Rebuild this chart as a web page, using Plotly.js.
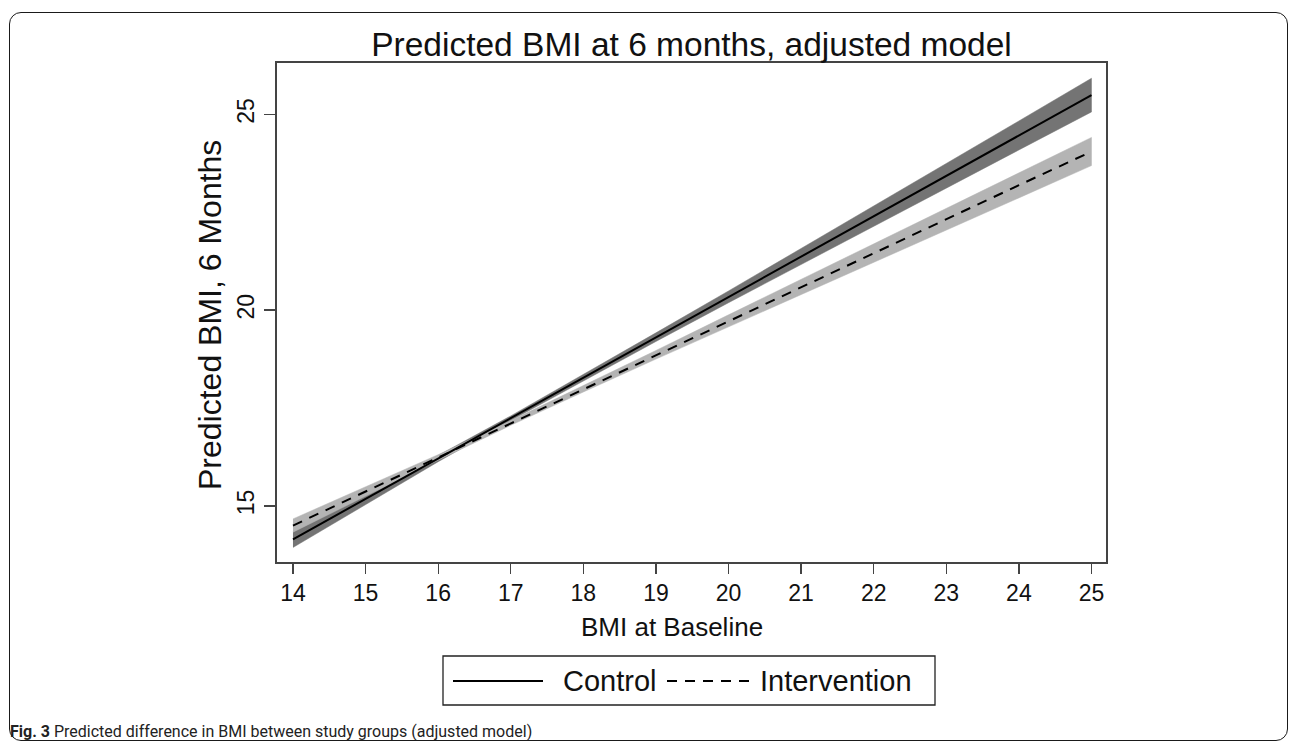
<!DOCTYPE html>
<html>
<head>
<meta charset="utf-8">
<script src="https://cdn.plot.ly/plotly-3.0.1.min.js"></script>
<style>
  html, body { margin: 0; padding: 0; background: #ffffff; }
  #wrap { position: relative; width: 1292px; height: 746px; }
  #chart { position: absolute; left: 0; top: 0; width: 1292px; height: 746px; }
  #frame { position: absolute; left: 9px; top: 12px; width: 1279px; height: 729px;
           border: 1.6px solid #1a1a1a; border-radius: 12px; pointer-events: none; box-sizing: border-box; }
</style>
</head>
<body>
<div id="wrap">
  <div id="chart"></div>
  <div id="frame"></div>
</div>
<script>
// ---- data ----
const baselineBMI = [14, 15, 16, 17, 18, 19, 20, 21, 22, 23, 24, 25];

const controlPred  = [14.15, 15.18, 16.21, 17.24, 18.27, 19.31, 20.34, 21.37, 22.40, 23.43, 24.46, 25.49];
const controlLow   = [13.94, 15.04, 16.13, 17.18, 18.19, 19.20, 20.19, 21.17, 22.15, 23.12, 24.09, 25.06];
const controlHigh  = [14.36, 15.32, 16.29, 17.30, 18.35, 19.42, 20.49, 21.57, 22.65, 23.74, 24.83, 25.92];

const interventionPred = [14.50, 15.37, 16.24, 17.12, 17.99, 18.86, 19.73, 20.60, 21.46, 22.33, 23.19, 24.05];
const interventionLow  = [14.33, 15.26, 16.17, 17.06, 17.91, 18.75, 19.58, 20.41, 21.22, 22.05, 22.87, 23.69];
const interventionHigh = [14.67, 15.48, 16.31, 17.18, 18.07, 18.97, 19.88, 20.79, 21.70, 22.61, 23.51, 24.41];

const seriesNames = ["Control", "Intervention"];
const xTicks = [14, 15, 16, 17, 18, 19, 20, 21, 22, 23, 24, 25];
const yTicks = [15, 20, 25];

const chartTitle = "Predicted BMI at 6 months, adjusted model";
const xTitle = "BMI at Baseline";
const yTitle = "Predicted BMI, 6 Months";
const captionBold = "Fig. 3";
const captionText = " Predicted difference in BMI between study groups (adjusted model)";

// ---- build traces ----
function band(x, lo, hi, color) {
  return {
    x: x.concat(x.slice().reverse()),
    y: hi.concat(lo.slice().reverse()),
    type: "scatter", mode: "lines", fill: "toself",
    fillcolor: color, line: { color: color, width: 0.5 },
    hoverinfo: "skip", showlegend: false
  };
}

const traces = [
  band(baselineBMI, controlLow, controlHigh, "#747474"),
  band(baselineBMI, interventionLow, interventionHigh, "#b4b4b4"),
  {
    x: baselineBMI, y: controlPred, name: seriesNames[0],
    type: "scatter", mode: "lines",
    line: { color: "#000000", width: 2 }, showlegend: false
  },
  {
    x: baselineBMI, y: interventionPred, name: seriesNames[1],
    type: "scatter", mode: "lines",
    line: { color: "#000000", width: 2, dash: "10px,8px" }, showlegend: false
  }
];

// plot area in pixels: left 277, right 1106, top 63, bottom 562
const W = 1292, H = 746, L = 277, R = 1106, T = 63, B = 562;
const px = v => (v - L) / (R - L);
const py = v => (B - v) / (B - T);

const FONT = "Liberation Sans, Arial, sans-serif";
const legendY = py(681);
const shapes = [
  { type: "rect", xref: "paper", yref: "paper", x0: px(443), x1: px(935), y0: py(656), y1: py(705),
    line: { color: "#222222", width: 1.3 }, fillcolor: "rgba(0,0,0,0)" },
  { type: "line", xref: "paper", yref: "paper", x0: px(453), x1: px(543), y0: legendY, y1: legendY,
    line: { color: "#000000", width: 2 } },
  { type: "line", xref: "paper", yref: "paper", x0: px(667), x1: px(750), y0: legendY, y1: legendY,
    line: { color: "#000000", width: 2, dash: "10px,8px" } }
];

const annotations = [
  { xref: "paper", yref: "paper", x: px(561), y: legendY, xanchor: "left", yanchor: "middle",
    text: seriesNames[0], showarrow: false,
    font: { family: FONT, size: 29, color: "#111111" } },
  { xref: "paper", yref: "paper", x: px(758), y: legendY, xanchor: "left", yanchor: "middle",
    text: seriesNames[1], showarrow: false,
    font: { family: FONT, size: 29, color: "#111111" } },
  { xref: "paper", yref: "paper", x: px(672), y: py(627), xanchor: "center", yanchor: "middle",
    text: xTitle, showarrow: false,
    font: { family: FONT, size: 26, color: "#111111" } },
  { xref: "paper", yref: "paper", x: px(210), y: py(315), xanchor: "center", yanchor: "middle",
    text: yTitle, showarrow: false, textangle: -90,
    font: { family: FONT, size: 32, color: "#111111" } },
  { xref: "paper", yref: "paper", x: px(8), y: py(731), xanchor: "left", yanchor: "middle",
    text: "<b>" + captionBold + "</b>" + captionText, showarrow: false,
    font: { family: "Roboto, Open Sans, sans-serif", size: 16, color: "#222222" } }
];

const axisFont = { family: FONT, size: 23, color: "#111111" };

const layout = {
  width: W, height: H,
  margin: { l: L, r: W - R, t: T, b: H - B, pad: 0 },
  paper_bgcolor: "rgba(0,0,0,0)",
  plot_bgcolor: "#ffffff",
  showlegend: false,
  title: {
    text: chartTitle, x: 0.5, xref: "paper", xanchor: "center",
    y: 1 - 44 / H, yref: "container", yanchor: "middle",
    font: { family: FONT, size: 33.5, color: "#111111" }
  },
  xaxis: {
    range: [13.78, 25.2], tickvals: xTicks, ticktext: xTicks.map(String),
    ticks: "outside", ticklen: 10, tickwidth: 1.3, tickcolor: "#444444",
    showline: true, linecolor: "#444444", linewidth: 1.6, mirror: true,
    showgrid: false, zeroline: false, tickfont: axisFont, ticklabelstandoff: 0,
    automargin: false
  },
  yaxis: {
    range: [13.57, 26.31], tickvals: yTicks, ticktext: yTicks.map(String),
    ticks: "outside", ticklen: 11, tickwidth: 1.3, tickcolor: "#444444",
    showline: true, linecolor: "#444444", linewidth: 1.6, mirror: true,
    showgrid: false, zeroline: false, tickfont: axisFont, tickangle: -90, ticklabelstandoff: 1,
    automargin: false
  },
  shapes: shapes,
  annotations: annotations
};

Plotly.newPlot("chart", traces, layout, { displayModeBar: false, staticPlot: true });
</script>
</body>
</html>
